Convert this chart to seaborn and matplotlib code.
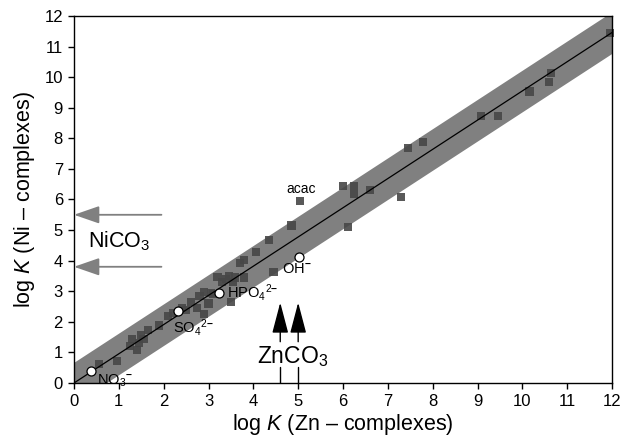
import matplotlib
matplotlib.use("Agg")
import matplotlib.pyplot as plt
import numpy as np
import pandas as pd
import seaborn as sns

# log K values of Zn and Ni complexes with the same ligand
zn_logk = [0.55, 0.95, 1.25, 1.30, 1.40, 1.45, 1.50, 1.55, 1.65, 1.90,
           2.10, 2.20, 2.40, 2.50, 2.60, 2.75, 2.80, 2.90, 2.90, 3.00,
           3.05, 3.10, 3.20, 3.30, 3.40, 3.45, 3.50, 3.55, 3.60, 3.70,
           3.80, 3.80, 4.05, 4.35, 4.45, 4.85, 5.05, 6.00, 6.12, 6.25,
           6.25, 6.60, 7.30, 7.45, 7.78, 9.07, 9.46, 10.16, 10.60, 10.63,
           11.95]
ni_logk = [0.62, 0.72, 1.20, 1.45, 1.08, 1.30, 1.57, 1.45, 1.73, 1.88,
           2.20, 2.30, 2.45, 2.40, 2.65, 2.45, 2.85, 2.97, 2.25, 2.60,
           2.95, 2.90, 3.48, 3.30, 3.40, 3.50, 2.65, 3.30, 3.45, 3.92,
           4.02, 3.45, 4.28, 4.67, 3.63, 5.15, 5.95, 6.43, 5.10, 6.43,
           6.17, 6.30, 6.07, 7.68, 7.88, 8.74, 8.74, 9.53, 9.85, 10.13,
           11.45]

# highlighted inorganic ligands
ion_zn = [0.37, 2.33, 3.23, 5.02]
ion_ni = [0.40, 2.35, 2.93, 4.11]
ion_labels = ["NO$_3{}^{\\mathbf{-}}$", "SO$_4{}^{2\\mathbf{-}}$",
              "HPO$_4{}^{2\\mathbf{-}}$", "OH$^{\\mathbf{-}}$"]

# linear free-energy relation and its uncertainty band
fit_slope = 0.955
band_half = 0.68

# carbonate estimates
nico3_logk = [5.5, 3.8]
znco3_logk = [4.6, 5.0]

sns.set_theme(style="ticks")
plt.rcParams["font.family"] = ["Liberation Sans", "DejaVu Sans"]
plt.rcParams["mathtext.fontset"] = "custom"
plt.rcParams["mathtext.rm"] = "Liberation Sans"
plt.rcParams["mathtext.it"] = "Liberation Sans:italic"
plt.rcParams["mathtext.bf"] = "Liberation Sans:bold"
for key in ["text.color", "axes.labelcolor", "xtick.color", "ytick.color",
            "axes.edgecolor"]:
    plt.rcParams[key] = "black"

fig = plt.figure(figsize=(6.24, 4.42), dpi=100)
ax = fig.add_axes([0.1186, 0.1335, 0.8622, 0.8303])

xx = np.linspace(0, 12, 200)
ax.fill_between(xx, fit_slope * xx - band_half, fit_slope * xx + band_half,
                color="#808080", lw=0, zorder=1)

df = pd.DataFrame({"zn": zn_logk, "ni": ni_logk})
sns.scatterplot(data=df, x="zn", y="ni", marker="s", s=34, color="#474747",
                edgecolor="none", linewidth=0, alpha=0.9, ax=ax, zorder=2,
                clip_on=False)

line_df = pd.DataFrame({"x": [0, 12], "y": [0, 12 * fit_slope]})
sns.lineplot(data=line_df, x="x", y="y", color="black", lw=0.9, ax=ax,
             zorder=3)

ion_df = pd.DataFrame({"zn": ion_zn, "ni": ion_ni})
sns.scatterplot(data=ion_df, x="zn", y="ni", marker="o", s=42,
                facecolor="white", edgecolor="black", linewidth=0.9,
                ax=ax, zorder=4)

lab_fs = 10.5
ax.text(ion_zn[0] + 0.15, ion_ni[0] - 0.05, ion_labels[0], fontsize=lab_fs,
        ha="left", va="top", zorder=5)
ax.text(2.2, ion_ni[1] - 0.2, ion_labels[1], fontsize=lab_fs,
        ha="left", va="top", zorder=5)
ax.text(ion_zn[2] + 0.18, ion_ni[2] + 0.02, ion_labels[2], fontsize=lab_fs,
        ha="left", va="center", zorder=5)
ax.text(ion_zn[3] - 0.05, ion_ni[3] - 0.14, ion_labels[3], fontsize=lab_fs,
        ha="center", va="top", zorder=5)
ax.text(5.06, 6.1, "acac", fontsize=10, ha="center", va="bottom", zorder=5)

# NiCO3 arrows along the y axis
for y in nico3_logk:
    ax.annotate("", xy=(0.0, y), xytext=(1.95, y),
                arrowprops=dict(arrowstyle="-|>,head_length=1.3,head_width=0.45",
                                color="#808080", lw=1.3, shrinkA=0, shrinkB=0),
                annotation_clip=False, zorder=5)
ax.text(1.0, 4.63, "NiCO$_3$", fontsize=15.5, ha="center", va="center")

# ZnCO3 arrows along the x axis
for x in znco3_logk:
    ax.annotate("", xy=(x, 2.63), xytext=(x, 1.35),
                arrowprops=dict(arrowstyle="-|>,head_length=1.6,head_width=0.42",
                                color="black", lw=1.0, shrinkA=0, shrinkB=0),
                zorder=5)
    ax.plot([x, x], [0, 0.53], color="black", lw=1.0, zorder=5)
ax.text(4.87, 0.88, "ZnCO$_3$", fontsize=16.5, ha="center", va="center")

ax.set_xlim(0, 12)
ax.set_ylim(0, 12)
ax.set_xticks(range(0, 13))
ax.set_yticks(range(0, 13))
ax.tick_params(direction="out", length=4, width=1, labelsize=12, pad=4,
               colors="black")
for sp in ax.spines.values():
    sp.set_color("black")
    sp.set_linewidth(1.0)
ax.set_xlabel("log $\\mathit{K}$ (Zn \u2013 complexes)", fontsize=15.5,
              labelpad=2)
ax.set_ylabel("log $\\mathit{K}$ (Ni \u2013 complexes)", fontsize=15.5,
              labelpad=5)

fig.savefig("out.png", dpi=100)
